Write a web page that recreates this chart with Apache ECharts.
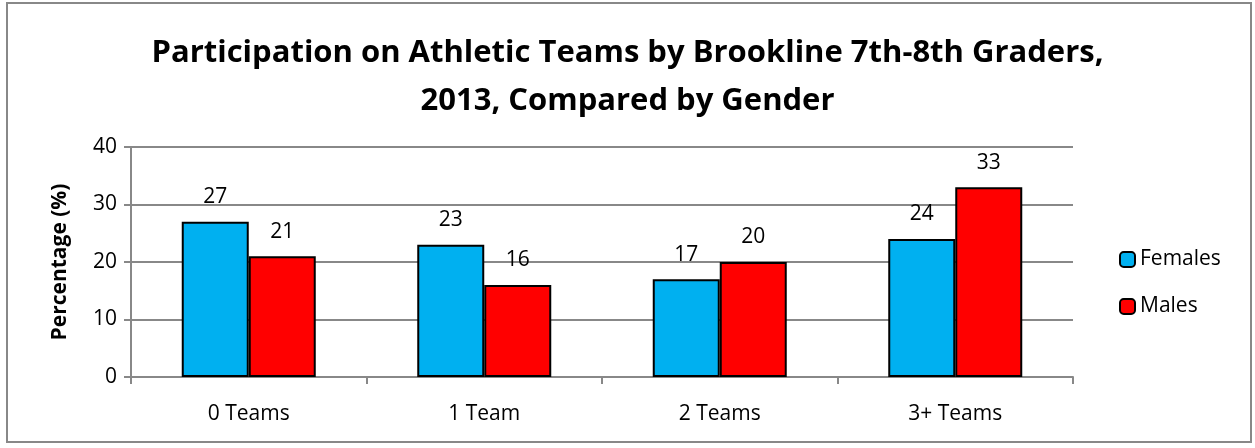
<!DOCTYPE html>
<html><head><meta charset="utf-8">
<script src="https://cdn.jsdelivr.net/npm/echarts@6/dist/echarts.min.js"></script>
<style>html,body{margin:0;padding:0;background:#fff}#c{width:1255px;height:448px}</style>
</head><body><div id="c"></div>
<script>
const categories = ['0 Teams', '1 Team', '2 Teams', '3+ Teams'];
const females = [27, 23, 17, 24];
const males = [21, 16, 20, 33];
const seriesNames = ['Females', 'Males'];
const titleText = 'Participation on Athletic Teams by Brookline 7th-8th Graders,\n2013, Compared by Gender';
const yAxisName = 'Percentage (%)';

const chart = echarts.init(document.getElementById('c'));
const font = '"Open Sans", "DejaVu Sans", sans-serif';
const lbl = {show: true, position: 'top', color: '#000', fontSize: 21, fontFamily: font, distance: 14};
chart.setOption({
  animation: false,
  graphic: [{type: 'rect', shape: {x: 7, y: 3, width: 1244, height: 439}, style: {fill: 'none', stroke: '#888', lineWidth: 2}}],
  title: {text: titleText, left: 'center', top: 24, textStyle: {fontFamily: font, fontWeight: 'bold', fontSize: 31, color: '#000', lineHeight: 48}},
  legend: {orient: 'vertical', left: 1114, top: 244, itemGap: 26, itemWidth: 15, itemHeight: 15,
    textStyle: {fontFamily: font, fontSize: 21, color: '#000'}, data: seriesNames},
  grid: {left: 131, right: 182, top: 147, bottom: 71, containLabel: false},
  xAxis: {type: 'category', data: categories,
    axisLine: {lineStyle: {color: '#888', width: 2}},
    axisTick: {show: true, length: 7, lineStyle: {color: '#888', width: 2}},
    axisLabel: {color: '#000', fontSize: 21, fontFamily: font, margin: 27}},
  yAxis: {type: 'value', min: 0, max: 40, interval: 10, name: yAxisName, nameLocation: 'middle', nameGap: 60,
    nameTextStyle: {fontFamily: font, fontWeight: 'bold', fontSize: 21, color: '#000'},
    axisLine: {show: true, lineStyle: {color: '#888', width: 2}},
    axisTick: {show: true, length: 7, lineStyle: {color: '#888', width: 2}},
    splitLine: {lineStyle: {color: '#888', width: 2}},
    axisLabel: {color: '#000', fontSize: 21, fontFamily: font, margin: 14}},
  series: [
    {name: seriesNames[0], type: 'bar', data: females, barWidth: 67, barGap: '0%',
      itemStyle: {color: '#00b0f0', borderColor: '#000', borderWidth: 2}, label: lbl},
    {name: seriesNames[1], type: 'bar', data: males, barWidth: 67, barGap: '0%',
      itemStyle: {color: '#ff0000', borderColor: '#000', borderWidth: 2}, label: lbl}
  ]
});
</script></body></html>
